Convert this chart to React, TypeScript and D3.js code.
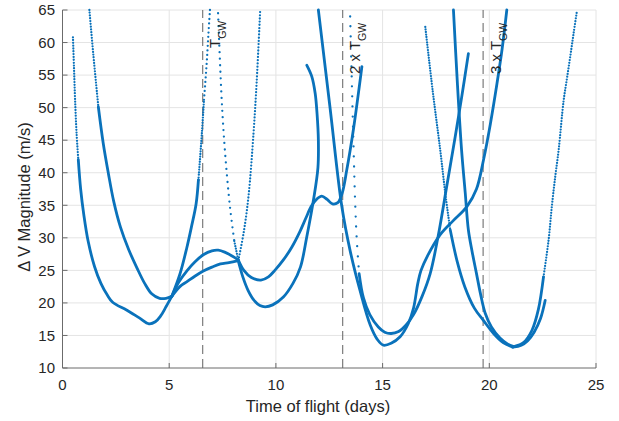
import React from "react";
import * as d3 from "d3";

type Pt = [number, number];

const W = 619;
const H = 421;

const xTicks = [0, 5, 10, 15, 20, 25];
const yTicks = [10, 15, 20, 25, 30, 35, 40, 45, 50, 55, 60, 65];
const gwTimes = [6.57, 13.13, 19.71];
const gwPrefix = ["", "2 x ", "3 x "];

// ---- curves (time of flight [days], ΔV [m/s]) ----
const curveATop: Pt[] = [[0.49, 60.8], [0.54, 56], [0.59, 51.2], [0.66, 46], [0.74, 42]];
const curveA: Pt[] = [[0.74, 42], [0.85, 37.5], [1.0, 33.5], [1.2, 29.5], [1.5, 25.6], [1.8, 23], [2.1, 21.2], [2.35, 20.1], [3.0, 18.9], [3.6, 17.7], [4.05, 16.8], [4.35, 17.1], [4.6, 18], [4.85, 19.4], [5.12, 21]];
const curveBTop: Pt[] = [[1.26, 65], [1.44, 58.3], [1.68, 50.1]];
const curveB: Pt[] = [[1.68, 50.1], [1.91, 44.5], [2.15, 39.9], [2.4, 35.6], [2.72, 31.6], [3.1, 28.2], [3.5, 25.3], [3.85, 23.0], [4.18, 21.4], [4.55, 20.7], [4.85, 20.7], [5.12, 21]];
const riser1: Pt[] = [[5.12, 21], [5.5, 24.4], [5.82, 28.4], [6.05, 31.8], [6.26, 35.2], [6.37, 38.9]];
const riser1Mid: Pt[] = [[6.37, 38.9], [6.53, 46], [6.63, 51.2]];
const riser1Top: Pt[] = [[6.63, 51.2], [6.75, 56.5], [6.84, 61.4], [6.91, 65]];
const humpUpper: Pt[] = [[5.12, 21], [5.45, 23.2], [5.82, 24.9], [6.2, 26.3], [6.6, 27.4], [7.0, 28.0], [7.3, 28.1], [7.6, 27.8], [7.95, 27.2], [8.24, 26.6]];
const humpLower: Pt[] = [[5.12, 21], [5.5, 22.5], [5.85, 23.3], [6.2, 24.1], [6.6, 24.9], [7.0, 25.5], [7.4, 26.0], [7.8, 26.2], [8.24, 26.5]];
const fallT1: Pt[] = [[7.29, 64.5], [7.46, 51.2], [7.62, 43], [7.85, 34.7], [8.05, 29.5]];
const fallT1End: Pt[] = [[8.05, 29.5], [8.24, 26.5]];
const riser2: Pt[] = [[8.24, 26.5], [8.5, 31], [8.72, 36.5], [8.95, 46], [9.1, 54], [9.26, 64.7]];
const branchUpper: Pt[] = [[8.24, 26.6], [8.5, 25.0], [8.85, 23.9], [9.3, 23.5], [9.65, 24.0], [9.95, 25.0], [10.35, 26.6], [10.75, 28.6], [11.13, 31.0], [11.4, 33.0], [11.65, 34.8], [11.9, 35.9], [12.15, 36.4], [12.4, 35.9], [12.65, 35.2], [12.9, 35.4], [13.1, 36.8], [13.32, 40.4], [13.63, 46.6], [14.03, 56.3]];
const branchLower: Pt[] = [[8.24, 26.4], [8.45, 24.0], [8.7, 21.9], [9.0, 20.3], [9.25, 19.6], [9.5, 19.4], [9.85, 19.7], [10.35, 20.9], [10.8, 23.0], [11.15, 25.5], [11.45, 30.2], [11.76, 35.8], [11.97, 40.8], [11.99, 45], [11.93, 49], [11.84, 52.2], [11.68, 54.8], [11.45, 56.5]];
const fallD: Pt[] = [[11.99, 65], [12.54, 49.9], [13.09, 34.8], [13.48, 28.0], [13.95, 21.8], [14.42, 16.6], [14.75, 14.4], [15.04, 13.5], [15.4, 13.8], [15.82, 14.8], [16.2, 16.8], [16.45, 19.2], [16.65, 23], [16.8, 25.0], [17.1, 27.2], [17.7, 30.5], [18.3, 32.6], [18.95, 34.8], [19.4, 37.5], [19.73, 42], [20.05, 47.5], [20.36, 53.7], [20.6, 59], [20.82, 65]];
const fallT2: Pt[] = [[13.48, 64], [13.55, 55], [13.63, 45], [13.71, 35.8], [13.79, 29.7], [13.9, 24.5]];
const curveU2: Pt[] = [[13.9, 24.5], [14.1, 20.8], [14.4, 18.2], [14.8, 16.3], [15.1, 15.5], [15.4, 15.3], [15.75, 15.6], [16.1, 16.6], [16.45, 18.2], [16.85, 21], [17.23, 24.5], [17.6, 30.2], [18.0, 37.8], [18.4, 45.5], [18.7, 51.5], [19.02, 58.3]];
const fallT3a: Pt[] = [[17.0, 62.4], [17.35, 52.5], [17.7, 43.5], [17.95, 36.5], [18.17, 31.2]];
const curveU3a: Pt[] = [[18.17, 31.2], [18.5, 26.3], [18.85, 22.5], [19.3, 19.2], [19.75, 17.2], [20.2, 15.3], [20.65, 13.9], [21.1, 13.2]];
const curveU3b: Pt[] = [[18.32, 65], [18.5, 54], [18.7, 43.5], [18.87, 37], [19.02, 31.2], [19.2, 27.8], [19.4, 24.5], [19.6, 21.2], [19.8, 18.5], [20.1, 16.3], [20.5, 14.6], [20.85, 13.7], [21.15, 13.3]];
const rightArm: Pt[] = [[21.1, 13.2], [21.5, 13.5], [21.8, 14.2], [22.1, 15.5], [22.4, 17.6], [22.62, 20.4]];
const rightRiser: Pt[] = [[21.15, 13.3], [21.6, 13.9], [22.0, 15.8], [22.3, 19.0], [22.54, 24.0]];
const rightRiserTop: Pt[] = [[22.54, 24.0], [22.78, 29.7], [22.93, 34.8], [23.09, 39.4], [23.25, 43.5], [23.48, 51], [23.64, 54.5], [23.8, 58], [23.95, 61.4], [24.1, 64.7]];

// drawing layers: gap = null → solid line, number → dot spacing
const layers: { pts: Pt[]; gap: number | null }[] = [
  { pts: curveATop, gap: 2.8 },
  { pts: curveA, gap: null },
  { pts: curveBTop, gap: 2.8 },
  { pts: curveB, gap: null },
  { pts: riser1, gap: null },
  { pts: riser1Mid, gap: 2.6 },
  { pts: riser1Top, gap: 4.5 },
  { pts: humpUpper, gap: null },
  { pts: humpLower, gap: null },
  { pts: fallT1, gap: 6.5 },
  { pts: fallT1End, gap: 2.6 },
  { pts: riser2, gap: 3.2 },
  { pts: branchUpper, gap: null },
  { pts: branchLower, gap: null },
  { pts: fallD, gap: null },
  { pts: fallT2, gap: 10 },
  { pts: curveU2, gap: null },
  { pts: fallT3a, gap: 2.6 },
  { pts: curveU3a, gap: null },
  { pts: curveU3b, gap: null },
  { pts: rightArm, gap: null },
  { pts: rightRiser, gap: null },
  { pts: rightRiserTop, gap: 2.8 },
];

const BLUE = "#0a72bb";
const TXT = "#262626";
const FONT = "'Liberation Sans', Arial, Helvetica, sans-serif";

export default function App() {
  const x = d3.scaleLinear().domain([0, 25]).range([62.5, 596]);
  const y = d3.scaleLinear().domain([10, 65]).range([368, 10]);
  const line = d3
    .line<Pt>()
    .x((d) => x(d[0]))
    .y((d) => y(d[1]))
    .curve(d3.curveCatmullRom.alpha(0.5));

  const x0 = x(0), x1 = x(25), y0 = y(10), y1 = y(65);
  const tl = 5;

  return (
    <svg
      width={W}
      height={H}
      viewBox={`0 0 ${W} ${H}`}
      style={{ position: "absolute", left: 0, top: 0, background: "#fff" }}
      fontFamily={FONT}
    >
      <rect x={0} y={0} width={W} height={H} fill="#fff" />
      {/* grid */}
      <g stroke="#e4e4e4" strokeWidth={1}>
        {xTicks.filter((t) => t > 0).map((t) => (
          <line key={"gx" + t} x1={x(t)} x2={x(t)} y1={y0} y2={y1} />
        ))}
        {yTicks.filter((t) => t > 10).map((t) => (
          <line key={"gy" + t} x1={x0} x2={x1} y1={y(t)} y2={y(t)} />
        ))}
      </g>
      {/* T_GW markers */}
      <g stroke="#707070" strokeWidth={1.1} strokeDasharray="9 5">
        {gwTimes.map((t) => (
          <line key={"gw" + t} x1={x(t)} x2={x(t)} y1={y0} y2={y1} />
        ))}
      </g>
      {/* curves */}
      <g fill="none" stroke={BLUE}>
        {layers.map((l, i) =>
          l.gap === null ? (
            <path key={i} d={line(l.pts) || ""} strokeWidth={2.8} strokeLinejoin="round" strokeLinecap="round" />
          ) : (
            <path
              key={i}
              d={line(l.pts) || ""}
              strokeWidth={2.3}
              strokeLinecap="round"
              strokeDasharray={`0 ${l.gap}`}
            />
          )
        )}
      </g>
      {/* axes */}
      <g stroke="#6b6b6b" strokeWidth={1} fill="none">
        <line x1={x0} x2={x0} y1={y0} y2={y1} />
        <line x1={x0} x2={x1} y1={y0} y2={y0} />
        {xTicks.map((t) => (
          <line key={"tx" + t} x1={x(t)} x2={x(t)} y1={y0} y2={y0 - tl} />
        ))}
        {yTicks.map((t) => (
          <line key={"ty" + t} x1={x0} x2={x0 + tl} y1={y(t)} y2={y(t)} />
        ))}
      </g>
      {/* tick labels */}
      <g fill={TXT} fontSize={15}>
        {xTicks.map((t) => (
          <text key={"lx" + t} x={x(t)} y={390} textAnchor="middle">
            {t}
          </text>
        ))}
        {yTicks.map((t) => (
          <text key={"ly" + t} x={55} y={y(t) + 5.3} textAnchor="end">
            {t}
          </text>
        ))}
      </g>
      {/* axis labels */}
      <text x={318} y={412} textAnchor="middle" fontSize={16.5} fill={TXT}>
        Time of flight (days)
      </text>
      <text
        transform={`translate(29.5,197) rotate(-90)`}
        textAnchor="middle"
        fontSize={16.5}
        fill={TXT}
      >
        Δ V Magnitude (m/s)
      </text>
      {/* T_GW labels */}
      {gwTimes.map((t, i) => (
        <text
          key={"gl" + t}
          transform={`translate(${x(t) + 17.5},${i === 0 ? 48 : 74}) rotate(-90)`}
          fontSize={15}
          fill={TXT}
        >
          {gwPrefix[i] + "T"}
          <tspan fontSize={10.5} dy={6}>
            GW
          </tspan>
        </text>
      ))}
    </svg>
  );
}
